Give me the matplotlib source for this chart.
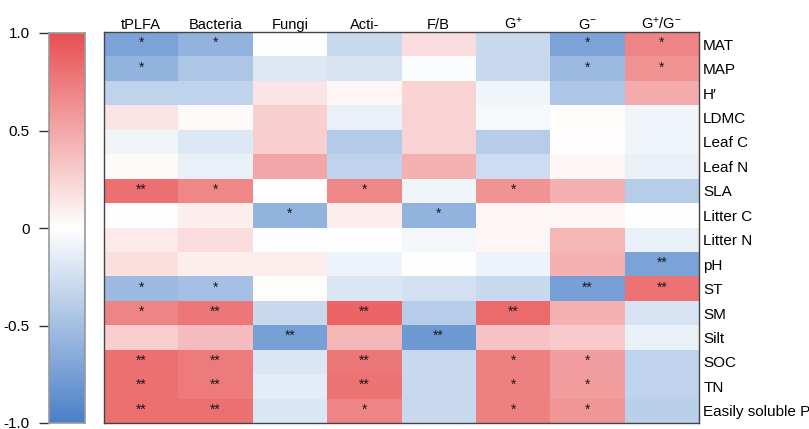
import numpy as np
import matplotlib
matplotlib.use("Agg")
import matplotlib.pyplot as plt
from matplotlib.colors import LinearSegmentedColormap, Normalize

plt.rcParams["font.family"] = ["Liberation Sans", "DejaVu Sans"]
plt.rcParams["mathtext.fontset"] = "custom"
plt.rcParams["mathtext.rm"] = "Liberation Sans"
plt.rcParams["mathtext.it"] = "Liberation Sans:italic"

columns = ["tPLFA", "Bacteria", "Fungi", "Acti-", "F/B",
           "G$^{+}$", "G$^{-}$", "G$^{+}$/G$^{-}$"]
rows = ["MAT", "MAP", "H\u2032", "LDMC", "Leaf C", "Leaf N", "SLA",
        "Litter C", "Litter N", "pH", "ST", "SM", "Silt", "SOC", "TN",
        "Easily soluble P"]

# Correlation coefficients (rows x columns)
r_values = [
    [-0.72, -0.60,  0.00, -0.30,  0.20, -0.30, -0.72,  0.70],
    [-0.60, -0.45, -0.18, -0.22, -0.03, -0.30, -0.55,  0.62],
    [-0.35, -0.35,  0.15,  0.05,  0.25, -0.08, -0.45,  0.48],
    [ 0.15,  0.03,  0.28, -0.12,  0.25, -0.05,  0.02, -0.08],
    [-0.08, -0.18,  0.28, -0.42,  0.25, -0.40,  0.01, -0.08],
    [ 0.03, -0.12,  0.50, -0.35,  0.45, -0.28,  0.06, -0.12],
    [ 0.82,  0.68,  0.01,  0.68, -0.08,  0.62,  0.45, -0.40],
    [ 0.00,  0.10, -0.60,  0.10, -0.60,  0.06,  0.05,  0.00],
    [ 0.12,  0.20, -0.02, -0.01, -0.07,  0.05,  0.42, -0.12],
    [ 0.18,  0.10,  0.10, -0.10,  0.00, -0.10,  0.45, -0.72],
    [-0.55, -0.50,  0.02, -0.20, -0.25, -0.30, -0.75,  0.80],
    [ 0.70,  0.78, -0.30,  0.88, -0.40,  0.85,  0.45, -0.22],
    [ 0.28,  0.38, -0.75,  0.42, -0.80,  0.35,  0.30, -0.12],
    [ 0.82,  0.75, -0.20,  0.78, -0.30,  0.72,  0.55, -0.35],
    [ 0.82,  0.75, -0.15,  0.80, -0.30,  0.72,  0.55, -0.35],
    [ 0.82,  0.82, -0.20,  0.70, -0.30,  0.72,  0.60, -0.38],
]

# Significance marks (rows x columns)
sig_marks = [
    ["*", "*", "", "", "", "", "*", "*"],
    ["*", "", "", "", "", "", "*", "*"],
    ["", "", "", "", "", "", "", ""],
    ["", "", "", "", "", "", "", ""],
    ["", "", "", "", "", "", "", ""],
    ["", "", "", "", "", "", "", ""],
    ["**", "*", "", "*", "", "*", "", ""],
    ["", "", "*", "", "*", "", "", ""],
    ["", "", "", "", "", "", "", ""],
    ["", "", "", "", "", "", "", "**"],
    ["*", "*", "", "", "", "", "**", "**"],
    ["*", "**", "", "**", "", "**", "", ""],
    ["", "", "**", "", "**", "", "", ""],
    ["**", "**", "", "**", "", "*", "*", ""],
    ["**", "**", "", "**", "", "*", "*", ""],
    ["**", "**", "", "*", "", "*", "*", ""],
]

cmap = LinearSegmentedColormap.from_list(
    "bwr_soft", ["#4A80C8", "#FFFFFF", "#E85052"])
norm = Normalize(vmin=-1, vmax=1)

W, H = 809, 429
fig = plt.figure(figsize=(W / 100, H / 100), dpi=100)

# Heatmap
ax = fig.add_axes([104 / W, (H - 423) / H, 595 / W, 391 / H])
data = np.array(r_values)
nr, nc = data.shape
ax.pcolormesh(np.arange(nc + 1), np.arange(nr + 1), data,
              cmap=cmap, norm=norm, shading="flat")
ax.set_xlim(0, nc)
ax.set_ylim(nr, 0)
for i in range(nr):
    for j in range(nc):
        if sig_marks[i][j]:
            ax.text(j + 0.5, i + 0.45, sig_marks[i][j], ha="center",
                    va="center", fontsize=10, color="#1a1a1a")
ax.set_xticks(np.arange(nc) + 0.5)
ax.set_xticklabels(columns, fontsize=10.5)
ax.xaxis.tick_top()
ax.set_yticks(np.arange(nr) + 0.5)
ax.set_yticklabels(rows, fontsize=11)
ax.yaxis.tick_right()
ax.tick_params(axis="x", length=0, pad=0)
ax.tick_params(axis="y", length=0, pad=3)
for s in ax.spines.values():
    s.set_color("#444444")
    s.set_linewidth(1.0)

# Colour bar
cax = fig.add_axes([49 / W, (H - 423) / H, 36 / W, 390 / H])
grad = np.linspace(-1, 1, 256).reshape(-1, 1)
cax.imshow(grad, cmap=cmap, norm=norm, aspect="auto", origin="lower",
           extent=[0, 1, -1, 1])
cax.set_xlim(0, 1)
cax.set_ylim(-1, 1)
cax.set_xticks([])
cax.set_yticks([-1, -0.5, 0, 0.5, 1])
cax.set_yticklabels(["-1.0", "-0.5", "0", "0.5", "1.0"], fontsize=11)
cax.tick_params(axis="y", length=7, width=1, pad=7, color="#333333")
for s in cax.spines.values():
    s.set_color("#999999")
    s.set_linewidth(1.2)

fig.savefig("out.png", dpi=100)
